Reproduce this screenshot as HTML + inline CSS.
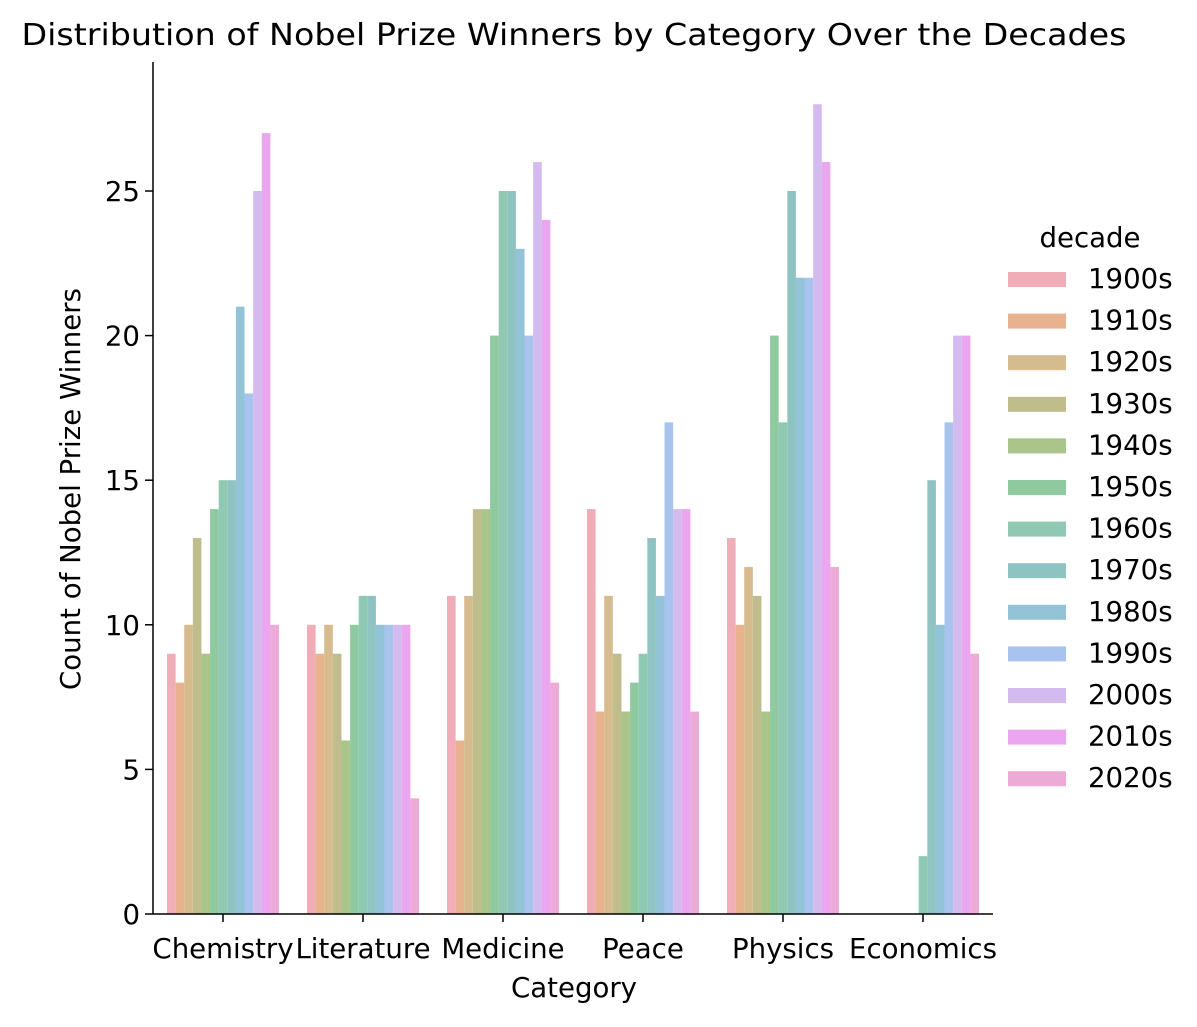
<!DOCTYPE html>
<html><head><meta charset="utf-8"><style>
html,body{margin:0;padding:0;background:#fff;}
svg text{font-family:"DejaVu Sans","Liberation Sans",sans-serif;fill:#000;}
</style></head><body>
<svg id="chart" width="1197" height="1022" xmlns="http://www.w3.org/2000/svg">
<text x="574" y="45" font-size="30" text-anchor="middle" textLength="1105" lengthAdjust="spacingAndGlyphs">Distribution of Nobel Prize Winners by Category Over the Decades</text>
<g id="bars"></g>
<g id="axes"></g>
<g id="legend"></g>
</svg>
<script>
const categories = ["Chemistry","Literature","Medicine","Peace","Physics","Economics"];
const decades = ["1900s","1910s","1920s","1930s","1940s","1950s","1960s","1970s","1980s","1990s","2000s","2010s","2020s"];
const chemistry = [9,8,10,13,9,14,15,15,21,18,25,27,10];
const literature = [10,9,10,9,6,10,11,11,10,10,10,10,4];
const medicine = [11,6,11,14,14,20,25,25,23,20,26,24,8];
const peace = [14,7,11,9,7,8,9,13,11,17,14,14,7];
const physics = [13,10,12,11,7,20,17,25,22,22,28,26,12];
const economics = [0,0,0,0,0,0,2,15,10,17,20,20,9];
const yTicks = [0,5,10,15,20,25];
const seriesByCategory = [chemistry,literature,medicine,peace,physics,economics];
const colors = ["#f0adb8","#e9b28f","#d6bb8f","#c0bd8c","#a9c589","#8fc9a0","#8fc8b3","#8fc3c2","#92c3d7","#a9c3ef","#d3bbef","#eba6ef","#eeaad6"];
const NS="http://www.w3.org/2000/svg";
const x0=153,x1=993,yBase=914,pxPerUnit=28.92;
const band=(x1-x0)/categories.length;
const xC=i=>x0+band*(i+0.5);
const y=v=>yBase-v*pxPerUnit;
const bw=band*0.8/decades.length;
const FS=27.6;
function mk(tag,attrs,parent){const e=document.createElementNS(NS,tag);for(const k in attrs)e.setAttribute(k,attrs[k]);parent.appendChild(e);return e;}
const gb=document.getElementById('bars');
seriesByCategory.forEach((ser,ci)=>{
  ser.forEach((v,di)=>{
    const left=xC(ci)-band*0.4+di*bw;
    const r=mk('rect',{x:left,y:y(v),width:bw,height:v*pxPerUnit,fill:colors[di]},gb);
    
    
  });
});
const ga=document.getElementById('axes');
let a=mk('line',{x1:x0,y1:62,x2:x0,y2:yBase,stroke:'#000','stroke-width':1.5},ga);


a=mk('line',{x1:x0,y1:yBase,x2:x1,y2:yBase,stroke:'#000','stroke-width':1.5},ga);


yTicks.forEach(t=>{
  mk('line',{x1:x0-8,y1:y(t),x2:x0,y2:y(t),stroke:'#000','stroke-width':1.5},ga);
  const tx=mk('text',{x:x0-13,y:y(t)+10,'font-size':FS,'text-anchor':'end'},ga);
  tx.textContent=t;
  
  
});
categories.forEach((c,i)=>{
  mk('line',{x1:xC(i),y1:yBase,x2:xC(i),y2:yBase+8,stroke:'#000','stroke-width':1.5},ga);
  const tx=mk('text',{x:xC(i),y:yBase+44,'font-size':FS,'text-anchor':'middle'},ga);
  tx.textContent=c;
  
  
});
let t=mk('text',{x:574,y:997,'font-size':FS,'text-anchor':'middle'},ga);
t.textContent='Category';


t=mk('text',{x:80,y:489,'font-size':FS,'text-anchor':'middle',transform:'rotate(-90 80 489)'},ga);
t.textContent='Count of Nobel Prize Winners';


const gl=document.getElementById('legend');
t=mk('text',{x:1090,y:247,'font-size':FS,'text-anchor':'middle'},gl);
t.textContent='decade';


decades.forEach((d,i)=>{
  const yy=279+i*41.6;
  const g=mk('g',{},gl);
  
  
  mk('rect',{x:1008,y:yy-7,width:58,height:15,fill:colors[i]},g);
  const tx=mk('text',{x:1088,y:yy+9,'font-size':FS},g);
  tx.textContent=d;
});
</script>
</body></html>
